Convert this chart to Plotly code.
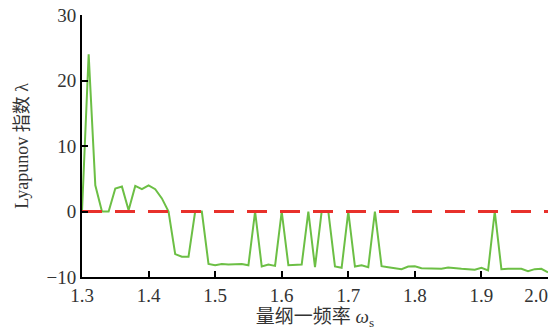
import plotly.graph_objects as go

omega = [round(1.30 + 0.01 * i, 2) for i in range(71)]
lyap = [
    0.0, 24.0, 4.0, 0.0, 0.0, 3.5, 3.8, 0.2, 3.9, 3.4,   # 1.30-1.39
    4.0, 3.4, 2.0, 0.0, -6.5, -6.9, -6.9, 0.0, 0.0, -8.0,  # 1.40-1.49
    -8.2, -8.0, -8.1, -8.0, -8.0, -8.2, 0.0, -8.4, -8.1, -8.3,  # 1.50-1.59
    0.0, -8.2, -8.2, -8.1, 0.0, -8.5, 0.0, 0.0, -8.4, -8.6,  # 1.60-1.69
    0.0, -8.4, -8.2, -8.5, 0.0, -8.35, -8.5, -8.6, -8.8, -8.4,  # 1.70-1.79
    -8.35, -8.65, -8.7, -8.75, -8.75, -8.55, -8.7, -8.75, -8.8, -8.9,  # 1.80-1.89
    -8.6, -9.0, 0.0, -8.8, -8.75, -8.75, -8.75, -9.1, -8.8, -8.75,  # 1.90-1.99
    -9.3,  # 2.00
]
ref_x = [1.30, 2.00]
ref_y = [0.0, 0.0]
xticks = [1.3, 1.4, 1.5, 1.6, 1.7, 1.8, 1.9, 2.0]
xticklabels = ["1.3", "1.4", "1.5", "1.6", "1.7", "1.8", "1.9", "2.0"]
yticks = [-10, 0, 10, 20, 30]

# last label is nudged left (padded) so that it stays inside the page, as in the reference
xticktext = xticklabels[:-1] + [xticklabels[-1] + "\u00a0" * 5]

fig = go.Figure()
fig.add_trace(go.Scatter(x=omega, y=lyap, mode="lines",
                         line=dict(color="#6cbf45", width=2), showlegend=False))
fig.add_trace(go.Scatter(x=ref_x, y=ref_y, mode="lines",
                         line=dict(color="#e8312b", width=3, dash="20px,13px"),
                         showlegend=False))

font_serif = "Liberation Serif, Times New Roman, serif"
# The page body has an 8px default margin, so the figure is sized to fit the window.
fig.update_layout(
    width=550, height=323,
    margin=dict(l=74, r=10, t=7, b=54),
    paper_bgcolor="white", plot_bgcolor="white",
    font=dict(family=font_serif, size=19, color="#333"),
    xaxis=dict(range=[1.3, 2.0], tickvals=xticks, ticktext=xticktext,
               automargin=False, ticklabeloverflow="allow",
               showgrid=False, zeroline=False, showline=True,
               linecolor="black", linewidth=2, ticks="inside", ticklen=6,
               tickwidth=2, tickcolor="black",
               title=dict(text="量纲一频率 <i>ω</i><sub>s</sub>",
                          font=dict(family=font_serif + ", Noto Sans CJK SC", size=19),
                          standoff=4)),
    yaxis=dict(range=[-10, 30], tickvals=yticks,
               automargin=False, ticklabeloverflow="allow",
               showgrid=False, zeroline=False, showline=True,
               linecolor="black", linewidth=2, ticks="inside", ticklen=6,
               tickwidth=2, tickcolor="black",
               title=dict(text="Lyapunov 指数 λ",
                          font=dict(family=font_serif + ", Noto Sans CJK SC", size=18),
                          standoff=13)),
)
fig.write_html("out.html")
